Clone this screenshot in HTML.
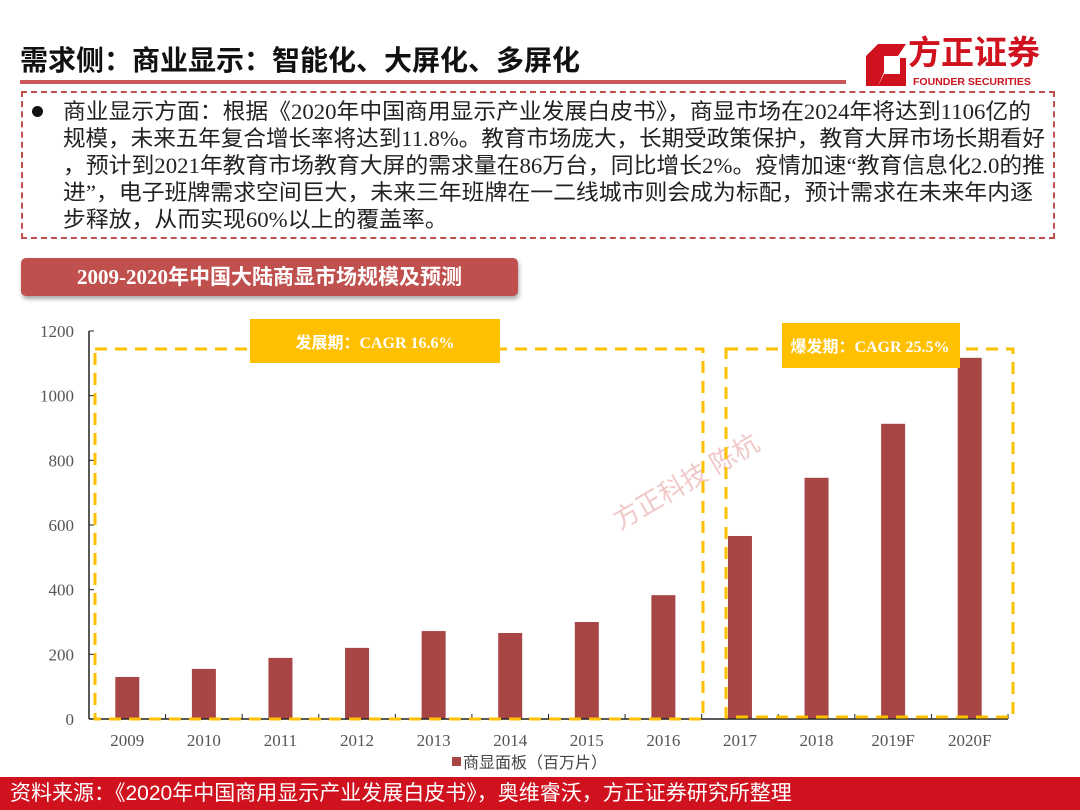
<!DOCTYPE html>
<html><head><meta charset="utf-8">
<style>
body{margin:0;background:#fff;}
#page{position:relative;width:1080px;height:810px;overflow:hidden;background:#fff;font-family:"Liberation Serif","Noto Sans CJK SC",serif;}
.abs{position:absolute;}
#title{left:20px;top:39px;font:bold 28px "Liberation Sans","Noto Sans CJK SC",sans-serif;color:#111;white-space:nowrap;}
#rule{left:20px;top:80px;width:826px;height:4px;background:#c9575a;}
#textbox{left:21px;top:91px;width:1034px;height:148px;border:2px dashed #c0504d;box-sizing:border-box;}
#para{left:63px;top:98px;width:1000px;font-size:22px;line-height:27px;color:#222;font-family:"Liberation Serif","Noto Sans CJK SC",serif;}
#para div{white-space:nowrap;transform-origin:0 50%;height:27px;}
#bullet{left:32px;top:106px;width:11px;height:11px;border-radius:50%;background:#111;}
#pill{left:21px;top:258px;width:497px;height:38px;background:#c0504d;border-radius:5px;box-shadow:1px 3px 4px rgba(0,0,0,.35);color:#fff;font:bold 21px "Liberation Serif","Noto Sans CJK SC",serif;line-height:38px;text-align:center;}
#footer{left:0;top:777px;width:1080px;height:33px;background:#d0121f;color:#fff;font:21px "Liberation Sans","Noto Sans CJK SC",sans-serif;line-height:33px;padding-left:10px;box-sizing:border-box;}
#logo-text{left:908px;top:33px;font:bold 33px "Liberation Sans","Noto Sans CJK SC",sans-serif;color:#d0121f;letter-spacing:0px;line-height:40px;}
#logo-sub{left:913px;top:76px;font:bold 10.5px "Liberation Sans",sans-serif;color:#d0121f;line-height:12px;}
</style></head>
<body>
<div id="page">
<div id="title" class="abs">需求侧：商业显示：智能化、大屏化、多屏化</div>
<div id="rule" class="abs"></div>
<svg class="abs" style="left:864px;top:42px" width="44" height="46">
<path d="M14 2 H42 L34 14 H20 V30 L14 44 H2 V14 Z" fill="#d0121f"/>
<path d="M36 16 H42 V44 H14 L20 32 H36 Z" fill="#d0121f"/>
</svg>
<div id="logo-text" class="abs">方正证券</div>
<div id="logo-sub" class="abs">FOUNDER SECURITIES</div>
<div id="textbox" class="abs"></div>
<div id="bullet" class="abs"></div>
<div id="para" class="abs">
<div data-w="968">商业显示方面：根据《2020年中国商用显示产业发展白皮书》，商显市场在2024年将达到1106亿的</div>
<div data-w="982">规模，未来五年复合增长率将达到11.8%。教育市场庞大，长期受政策保护，教育大屏市场长期看好</div>
<div data-w="982">，预计到2021年教育市场教育大屏的需求量在86万台，同比增长2%。疫情加速“教育信息化2.0的推</div>
<div data-w="970">进”，电子班牌需求空间巨大，未来三年班牌在一二线城市则会成为标配，预计需求在未来年内逐</div>
<div>步释放，从而实现60%以上的覆盖率。</div>
</div>
<div id="pill" class="abs">2009-2020年中国大陆商显市场规模及预测</div>

<svg id="chart" class="abs" style="left:0;top:0" width="1080" height="810"></svg>

<div id="footer" class="abs">资料来源：《2020年中国商用显示产业发展白皮书》，奥维睿沃，方正证券研究所整理</div>
</div>
<script>
// fit paragraph lines
(function(){const lines=document.querySelectorAll('#para div');let last=1;
lines.forEach(d=>{const s=document.createElement('span');s.innerHTML=d.innerHTML;d.innerHTML='';d.appendChild(s);
const w=s.getBoundingClientRect().width;const t=d.getAttribute('data-w');const k=t?(+t/w):last;last=k;d.style.transform='scaleX('+k+')';});})();

const categories=["2009","2010","2011","2012","2013","2014","2015","2016","2017","2018","2019F","2020F"];
const values=[130,155,189,220,272,266,300,383,566,746,913,1117];
const yTicks=[0,200,400,600,800,1000,1200];
const NS="http://www.w3.org/2000/svg";
const svg=document.getElementById('chart');
const X0=89,X1=1008,Y0=719,Y1=331,YMAX=1200;
const step=(X1-X0)/categories.length;
const y=v=>Y0-(v/YMAX)*(Y0-Y1);
const xc=i=>X0+step*(i+0.5);
function mk(tag,attrs){const e=document.createElementNS(NS,tag);for(const k in attrs)e.setAttribute(k,attrs[k]);svg.appendChild(e);return e;}
const wm=mk('text',{x:620,y:530,transform:'rotate(-30 620 530)','font-size':26,fill:'#f0c8c8','font-family':'"Liberation Sans","Noto Sans CJK SC",sans-serif'});
wm.textContent='方正科技 陈杭';


values.forEach((v,i)=>{
 const r=mk('rect',{x:xc(i)-12,y:y(v),width:24,height:Y0-y(v),fill:'#a84646'});
 
 
 const t=mk('text',{x:xc(i),y:746,'text-anchor':'middle','font-size':17,fill:'#555','font-family':'"Liberation Serif",serif'});
 t.textContent=categories[i];
 
 
});
const ya=mk('line',{x1:X0,y1:Y1,x2:X0,y2:Y0,stroke:'#222','stroke-width':1.5});


const xa=mk('line',{x1:X0,y1:Y0,x2:X1,y2:Y0,stroke:'#222','stroke-width':1.5});


yTicks.forEach(v=>{
 mk('line',{x1:X0,y1:y(v),x2:X0+5,y2:y(v),stroke:'#222'});
 const t=mk('text',{x:74,y:y(v)+6,'text-anchor':'end','font-size':17,fill:'#555','font-family':'"Liberation Serif",serif'});
 t.textContent=v;
 
 
});
for(let i=1;i<=categories.length;i++){mk('line',{x1:X0+step*i,y1:Y0,x2:X0+step*i,y2:Y0-5,stroke:'#222'});}
const b1=mk('rect',{x:95,y:349,width:608,height:370,fill:'none',stroke:'#ffc000','stroke-width':3,'stroke-dasharray':'12 8'});


const b2=mk('rect',{x:726,y:349,width:287,height:368,fill:'none',stroke:'#ffc000','stroke-width':3,'stroke-dasharray':'12 8'});


const l1=mk('rect',{x:250,y:319,width:250,height:44,fill:'#ffc000'});


const t1=mk('text',{x:375,y:348,'text-anchor':'middle','font-size':16,'font-weight':'bold',fill:'#fff','font-family':'"Liberation Serif","Noto Sans CJK SC",serif'});
t1.textContent='发展期：CAGR 16.6%';


const l2=mk('rect',{x:782,y:323,width:178,height:45,fill:'#ffc000'});


const t2=mk('text',{x:870,y:352,'text-anchor':'middle','font-size':16,'font-weight':'bold',fill:'#fff','font-family':'"Liberation Serif","Noto Sans CJK SC",serif'});
t2.textContent='爆发期：CAGR 25.5%';


const lg=mk('rect',{x:452,y:757,width:9,height:9,fill:'#a84646'});


const lt=mk('text',{x:463,y:768,'font-size':16,fill:'#444','font-family':'"Liberation Sans","Noto Sans CJK SC",sans-serif'});
lt.textContent='商显面板（百万片）';


</script>
</body></html>
